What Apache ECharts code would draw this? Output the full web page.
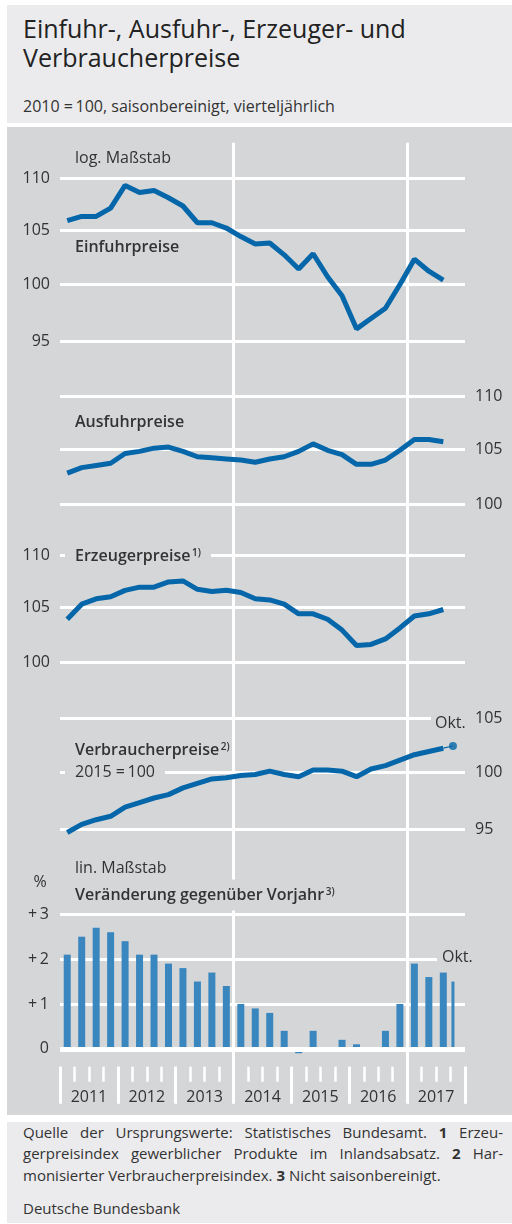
<!DOCTYPE html>
<html lang="de">
<head>
<meta charset="utf-8">
<title>Einfuhr-, Ausfuhr-, Erzeuger- und Verbraucherpreise</title>
<script src="https://cdn.jsdelivr.net/npm/echarts@6/dist/echarts.min.js"></script>
<style>
  html, body { margin: 0; padding: 0; background: #fff; }
  body { width: 512px; height: 1224px; position: relative; overflow: hidden; font-family: "Open Sans", sans-serif; color: #333; }
  .kopf { position: absolute; left: 7px; top: 5px; width: 505px; height: 118px; background: #ebebed; }
  .kopf h1 { position: absolute; left: 16px; top: 9px; margin: 0; font-size: 25px; line-height: 29px; font-weight: normal; color: #222; }
  .kopf .sub { position: absolute; left: 16px; top: 91px; font-size: 16px; line-height: 20px; }
  .panel { position: absolute; left: 7px; top: 127px; width: 505px; height: 988px; background: #d5d6d8; }
  .fuss { position: absolute; left: 7px; top: 1122px; width: 505px; height: 101px; background: #ebebed; font-size: 15px; line-height: 21px; }
  .fuss .z { position: absolute; left: 16px; width: 480px; text-align: justify; text-align-last: justify; white-space: nowrap; }
  .fuss .z.frei { text-align-last: left; }
  #chart { position: absolute; left: 0; top: 0; width: 512px; height: 1224px; }
</style>
</head>
<body>
<div class="kopf">
  <h1>Einfuhr-, Ausfuhr-, Erzeuger- und<br>Verbraucherpreise</h1>
  <div class="sub">2010 =&#8201;100, saisonbereinigt, vierteljährlich</div>
</div>
<div class="panel"></div>
<div class="fuss">
  <div class="z" style="top:0px">Quelle der Ursprungswerte: Statistisches Bundesamt. <b>1</b> Erzeu-</div>
  <div class="z" style="top:21px">gerpreisindex gewerblicher Produkte im Inlandsabsatz. <b>2</b> Har-</div>
  <div class="z frei" style="top:43px">monisierter Verbraucherpreisindex. <b>3</b> Nicht saisonbereinigt.</div>
  <div class="z frei" style="top:76px">Deutsche Bundesbank</div>
</div>
<div id="chart"></div>

<script>
  // Quartale 2011 Q1 bis 2017 Q4
  const quartale = [
    '2011 Q1', '2011 Q2', '2011 Q3', '2011 Q4',
    '2012 Q1', '2012 Q2', '2012 Q3', '2012 Q4',
    '2013 Q1', '2013 Q2', '2013 Q3', '2013 Q4',
    '2014 Q1', '2014 Q2', '2014 Q3', '2014 Q4',
    '2015 Q1', '2015 Q2', '2015 Q3', '2015 Q4',
    '2016 Q1', '2016 Q2', '2016 Q3', '2016 Q4',
    '2017 Q1', '2017 Q2', '2017 Q3', '2017 Q4'
  ];
  const jahre = ['2011', '2012', '2013', '2014', '2015', '2016', '2017'];

  // Indizes, 2010 = 100 (Verbraucherpreise 2015 = 100), log. Maßstab
  const einfuhr = [105.9, 106.3, 106.3, 107.1, 109.3, 108.6, 108.8, 108.1, 107.3, 105.7, 105.7, 105.2, 104.4, 103.7,
    103.8, 102.7, 101.4, 102.8, 100.7, 99.0, 96.1, 97.0, 97.9, 100.0, 102.3, 101.2, 100.4];
  const ausfuhr = [102.8, 103.3, 103.5, 103.7, 104.6, 104.8, 105.1, 105.2, 104.8, 104.3, 104.2, 104.1, 104.0, 103.8,
    104.1, 104.3, 104.8, 105.5, 104.9, 104.5, 103.6, 103.6, 104.0, 104.9, 105.9, 105.9, 105.7];
  const erzeuger = [103.9, 105.3, 105.8, 106.0, 106.6, 106.9, 106.9, 107.4, 107.5, 106.7, 106.5, 106.6, 106.4, 105.8,
    105.7, 105.3, 104.4, 104.4, 103.9, 102.9, 101.5, 101.6, 102.1, 103.1, 104.2, 104.4, 104.8];
  const verbraucher = [94.7, 95.4, 95.8, 96.1, 96.9, 97.3, 97.7, 98.0, 98.6, 99.0, 99.4, 99.5, 99.7, 99.8,
    100.1, 99.8, 99.6, 100.2, 100.2, 100.1, 99.6, 100.3, 100.6, 101.1, 101.6, 101.9, 102.2];
  const verbraucherOkt = 102.4;

  // Verbraucherpreise, Veränderung gegenüber Vorjahr in %
  const vorjahr = [2.1, 2.5, 2.7, 2.6, 2.4, 2.1, 2.1, 1.9, 1.8, 1.5, 1.7, 1.4, 1.0, 0.9,
    0.8, 0.4, -0.1, 0.4, 0.0, 0.2, 0.1, 0.0, 0.4, 1.0, 1.9, 1.6, 1.7];
  const vorjahrOkt = 1.5;

  // Oktober 2017 in Quartalseinheiten (Monatsmitte)
  const oktX = quartale.indexOf('2017 Q4') + 0.5 / 3;
  const letzterX = verbraucher.length - 0.5;

  const tickWerte95 = [95, 100, 105, 110];
  const tickWerte100 = [100, 105, 110];
  const tickWerteV = [95, 100, 105];
  const tickWerteProz = [0, 1, 2, 3];

  const BLAU = '#0566a9';
  const BALKEN = '#3a86be';
  const GRAU = '#d5d6d8';
  const SCHRIFT = '"Open Sans", sans-serif';
  const TEXT = '#333';

  const chart = echarts.init(document.getElementById('chart'));

  function logAchse(gridIndex, min, max, pos, werte) {
    return {
      type: 'log', gridIndex: gridIndex, min: min, max: max, position: pos,
      axisLine: { show: false },
      axisTick: { show: false, customValues: werte },
      axisLabel: { customValues: werte, margin: 10, fontSize: 16, color: TEXT, fontFamily: SCHRIFT },
      splitLine: { show: true, customValues: werte, lineStyle: { color: '#fff', width: 3 } }
    };
  }

  function versteckteKategorie(gridIndex) {
    return { type: 'category', gridIndex: gridIndex, data: quartale, show: false };
  }

  function linie(xi, yi, daten) {
    return {
      type: 'line', xAxisIndex: xi, yAxisIndex: yi, data: daten,
      symbol: 'none', clip: false,
      lineStyle: { color: BLAU, width: 5 }
    };
  }

  function beschriftung(x, y, text, opt) {
    opt = opt || {};
    return {
      type: 'text', x: x, y: y, z: 100,
      style: Object.assign({
        text: text,
        fontFamily: SCHRIFT,
        fontSize: 16,
        fontWeight: opt.bold ? 600 : 'normal',
        fill: TEXT,
        verticalAlign: 'middle'
      }, opt.style || {})
    };
  }

  const hoch = {
    t: { fontSize: 16, fontWeight: 600, fontFamily: SCHRIFT, fill: TEXT },
    s: { fontSize: 10, fontWeight: 600, fontFamily: SCHRIFT, fill: TEXT, verticalAlign: 'top' }
  };

  chart.setOption({
    animation: false,
    grid: [
      { left: 60, right: 47, top: 178.3, height: 163.4 },   // Einfuhrpreise
      { left: 60, right: 47, top: 396.7, height: 107.6 },   // Ausfuhrpreise
      { left: 60, right: 47, top: 555, height: 107.3 },     // Erzeugerpreise
      { left: 60, right: 47, top: 718.3, height: 110.7 },   // Verbraucherpreise
      { left: 60, right: 47, top: 914.3, height: 152.4 },   // Veränderung ggü. Vorjahr
      { left: 60, right: 47, top: 142.7, height: 960.3 }    // Jahrestrennlinien
    ],
    xAxis: [
      versteckteKategorie(0),
      versteckteKategorie(1),
      versteckteKategorie(2),
      versteckteKategorie(3),
      { type: 'value', gridIndex: 3, min: 0, max: quartale.length, show: false },
      {
        type: 'category', gridIndex: 4, data: quartale, position: 'bottom', offset: 0,
        axisLine: { show: false, onZero: false },
        axisTick: { show: true, interval: 0, length: 15, lineStyle: { color: '#fff', width: 2.5 } },
        axisLabel: { show: false }
      },
      {
        type: 'category', gridIndex: 4, data: jahre, position: 'bottom', offset: 0,
        axisLine: { show: false, onZero: false },
        axisTick: { show: true, interval: 0, length: 37, lineStyle: { color: '#fff', width: 3 } },
        axisLabel: { interval: 0, margin: 23, fontSize: 16, color: TEXT, fontFamily: SCHRIFT }
      },
      { type: 'value', gridIndex: 4, min: 0, max: quartale.length, show: false },
      {
        type: 'value', gridIndex: 5, min: 0, max: quartale.length, interval: 12,
        axisLine: { show: false, onZero: false }, axisTick: { show: false }, axisLabel: { show: false },
        splitLine: { show: true, showMinLine: false, showMaxLine: false, lineStyle: { color: '#fff', width: 3 } }
      }
    ],
    yAxis: [
      logAchse(0, 95, 110, 'left', tickWerte95),
      logAchse(1, 100, 110, 'right', tickWerte100),
      logAchse(2, 100, 110, 'left', tickWerte100),
      logAchse(3, 95, 105, 'right', tickWerteV),
      {
        type: 'value', gridIndex: 4, min: -0.4, max: 3, position: 'left',
        axisLine: { show: false },
        axisTick: { show: false, customValues: tickWerteProz },
        axisLabel: {
          customValues: tickWerteProz, margin: 11, fontSize: 16, color: TEXT, fontFamily: SCHRIFT,
          formatter: function (v) { return v === 0 ? '0' : '+\u2009' + v; }
        },
        splitLine: { show: true, customValues: tickWerteProz, lineStyle: { color: '#fff', width: 3 } }
      },
      { type: 'value', gridIndex: 5, min: 0, max: 1, show: false }
    ],
    series: [
      linie(0, 0, einfuhr),
      linie(1, 1, ausfuhr),
      linie(2, 2, erzeuger),
      linie(3, 3, verbraucher),
      {
        type: 'line', xAxisIndex: 4, yAxisIndex: 3, symbol: 'none', clip: false,
        data: [[letzterX, verbraucher[verbraucher.length - 1]], [oktX, verbraucherOkt]],
        lineStyle: { color: BLAU, width: 1.2 }
      },
      {
        type: 'scatter', xAxisIndex: 4, yAxisIndex: 3, symbolSize: 8, clip: false,
        data: [[oktX, verbraucherOkt]],
        itemStyle: { color: BLAU }
      },
      {
        type: 'bar', xAxisIndex: 5, yAxisIndex: 4, data: vorjahr, barWidth: 7,
        itemStyle: { color: BALKEN },
        markLine: {
          silent: true, symbol: 'none', label: { show: false },
          lineStyle: { color: '#fff', width: 5, type: 'solid' },
          data: [{ yAxis: 0 }]
        }
      },
      {
        type: 'bar', xAxisIndex: 7, yAxisIndex: 4, data: [[oktX, vorjahrOkt]], barWidth: 3,
        itemStyle: { color: BALKEN }
      }
    ],
    graphic: [
      beschriftung(75, 158, 'log. Maßstab'),
      beschriftung(75, 247, 'Einfuhrpreise', { bold: true }),
      beschriftung(75, 422, 'Ausfuhrpreise', { bold: true }),
      beschriftung(65, 556, '{t|Erzeugerpreise}{s|\u20091)}', {
        style: { rich: hoch, backgroundColor: GRAU, padding: [2, 10, 2, 10] }
      }),
      beschriftung(75, 750, '{t|Verbraucherpreise}{s|\u20092)}', { style: { rich: hoch } }),
      beschriftung(65, 772, '2015 =\u2009100', { style: { backgroundColor: GRAU, padding: [2, 10, 2, 10] } }),
      beschriftung(431, 723, 'Okt.', { style: { backgroundColor: GRAU, padding: [2, 2, 2, 4] } }),
      beschriftung(75, 868, 'lin. Maßstab'),
      beschriftung(40, 882, '%', { style: { align: 'center' } }),
      beschriftung(65, 895, '{t|Veränderung gegenüber Vorjahr}{s|\u20093)}', {
        style: { rich: hoch, backgroundColor: GRAU, padding: [8, 6, 7, 10] }
      }),
      beschriftung(437, 957, 'Okt.', { style: { backgroundColor: GRAU, padding: [2, 2, 2, 5] } })
    ]
  });
</script>
</body>
</html>
